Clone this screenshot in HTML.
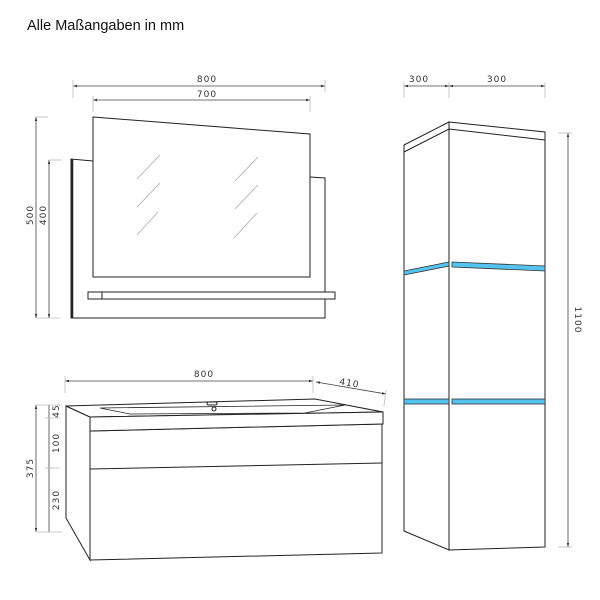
<!DOCTYPE html>
<html><head><meta charset="utf-8"><style>
html,body{margin:0;padding:0;background:#fff;}
svg{display:block;}
text{font-family:"Liberation Sans",sans-serif;}
.d{font-family:"DejaVu Sans","Liberation Sans",sans-serif;font-size:9px;fill:#333;letter-spacing:1px;}
</style></head><body>
<svg width="600" height="600" viewBox="0 0 600 600" xmlns="http://www.w3.org/2000/svg">
<defs><marker id="a" viewBox="0 0 10 10" refX="10" refY="5" markerWidth="5" markerHeight="5" orient="auto-start-reverse"><path d="M0,2 L10,5 L0,8z" fill="#333"/></marker></defs>
<text x="27" y="30" font-size="14.5" fill="#111">Alle Maßangaben in mm</text>

<g stroke="#444" stroke-width="0.8" fill="none">
<!-- mirror dims -->
<line x1="73" y1="86" x2="325" y2="86" marker-start="url(#a)" marker-end="url(#a)"/>
<line x1="73" y1="80" x2="73" y2="98" stroke="#bbb"/><line x1="325" y1="80" x2="325" y2="92" stroke="#bbb"/>
<line x1="93" y1="100" x2="310" y2="100" marker-start="url(#a)" marker-end="url(#a)"/>
<line x1="93" y1="96" x2="93" y2="112" stroke="#bbb"/><line x1="310" y1="96" x2="310" y2="112" stroke="#bbb"/>
<line x1="36" y1="117" x2="36" y2="318" marker-start="url(#a)" marker-end="url(#a)"/>
<line x1="49" y1="160" x2="49" y2="318" marker-start="url(#a)" marker-end="url(#a)"/>
<line x1="36" y1="117" x2="48" y2="117" stroke="#bbb"/><line x1="49" y1="160" x2="62" y2="160" stroke="#bbb"/>
<line x1="36" y1="318" x2="60" y2="318" stroke="#bbb"/>
<!-- vanity dims -->
<line x1="65" y1="381" x2="313" y2="381" marker-start="url(#a)" marker-end="url(#a)"/>
<line x1="65" y1="376" x2="65" y2="393" stroke="#bbb"/><line x1="313" y1="376" x2="313" y2="393" stroke="#bbb"/>
<line x1="316" y1="382" x2="386" y2="394" marker-start="url(#a)" marker-end="url(#a)"/>
<line x1="386" y1="390" x2="384" y2="406" stroke="#bbb"/>
<line x1="36" y1="405" x2="36" y2="532" marker-start="url(#a)" marker-end="url(#a)"/>
<line x1="49" y1="405" x2="49" y2="532"/>
<line x1="36" y1="405" x2="62" y2="405" stroke="#bbb"/><line x1="36" y1="532" x2="62" y2="532" stroke="#bbb"/>
<line x1="45" y1="418" x2="60" y2="418" stroke="#bbb"/><line x1="45" y1="468" x2="60" y2="468" stroke="#bbb"/>
<!-- tall dims -->
<line x1="404" y1="86" x2="449" y2="86" marker-start="url(#a)" marker-end="url(#a)"/>
<line x1="449" y1="86" x2="545" y2="86" marker-start="url(#a)" marker-end="url(#a)"/>
<line x1="404" y1="82" x2="404" y2="98" stroke="#bbb"/><line x1="449" y1="82" x2="449" y2="98" stroke="#bbb"/><line x1="545" y1="82" x2="545" y2="98" stroke="#bbb"/>
<line x1="568" y1="133" x2="568" y2="547" marker-start="url(#a)" marker-end="url(#a)"/>
<line x1="558" y1="133" x2="572" y2="133" stroke="#bbb"/><line x1="558" y1="547" x2="572" y2="547" stroke="#bbb"/>
</g>

<text class="d" x="207" y="82" text-anchor="middle">800</text>
<text class="d" x="207" y="97" text-anchor="middle">700</text>
<text class="d" transform="translate(33,215) rotate(-90)" text-anchor="middle">500</text>
<text class="d" transform="translate(46,215) rotate(-90)" text-anchor="middle">400</text>
<text class="d" x="204" y="377" text-anchor="middle">800</text>
<text class="d" transform="translate(349,386) rotate(10)" text-anchor="middle">410</text>
<text class="d" transform="translate(33,468) rotate(-90)" text-anchor="middle">375</text>
<text class="d" transform="translate(59,411) rotate(-90)" text-anchor="middle">45</text>
<text class="d" transform="translate(59,443) rotate(-90)" text-anchor="middle">100</text>
<text class="d" transform="translate(59,500) rotate(-90)" text-anchor="middle">230</text>
<text class="d" x="419" y="82" text-anchor="middle">300</text>
<text class="d" x="497" y="82" text-anchor="middle">300</text>
<text class="d" transform="translate(575,320) rotate(90)" text-anchor="middle">1100</text>

<!-- mirror -->
<g stroke="#222" stroke-width="1" fill="#fff">
<polyline points="93,161 71,159 71,318 325,318 325,178 310,177" fill="none"/>
<line x1="72" y1="159" x2="72" y2="318" stroke-width="2.5"/>
<polygon points="93,117 310,134 310,277 93,277"/>
<rect x="88" y="292" width="247" height="7"/>
<line x1="102" y1="292" x2="102" y2="299"/>
</g>
<g stroke="#aaa" stroke-width="0.8">
<line x1="137" y1="179" x2="160" y2="155"/><line x1="137" y1="207" x2="160" y2="183"/><line x1="137" y1="235" x2="158" y2="212"/>
<line x1="235" y1="181" x2="258" y2="157"/><line x1="235" y1="209" x2="258" y2="185"/><line x1="234" y1="238" x2="257" y2="213"/>
</g>

<!-- vanity -->
<g stroke="#222" stroke-width="1" fill="#fff">
<polygon points="66,406 90,417 90,560 66,518"/>
<polygon points="90,431 382,424 382,553 90,560"/>
<line x1="90" y1="469" x2="382" y2="463"/>
<polygon points="66,406 315,399 383,412 90,417"/>
<polygon points="90,417 383,412 383,424 90,431"/>
<polygon points="100,408 345,405 305,413 130,414" stroke-width="0.8"/>
<rect x="207" y="402" width="10" height="3" rx="1.5"/>
<circle cx="214" cy="409" r="2"/>
</g>

<!-- tall cabinet -->
<g stroke="#222" stroke-width="1" fill="#fff">
<polygon points="404,145 449,122 449,550 404,531"/>
<polygon points="449,122 545,132 545,547 449,550"/>
<polyline points="404,152 449,129 545,140" fill="none"/>
</g>
<g stroke="#333" stroke-width="0.8" fill="#55c3ef">
<polygon points="404,271 449,262 449,266 404,275"/>
<polygon points="452,262 545,266 545,271 452,267"/>
<rect x="404" y="399" width="45" height="5"/>
<rect x="452" y="399" width="93" height="5"/>
</g>
</svg>
</body></html>
